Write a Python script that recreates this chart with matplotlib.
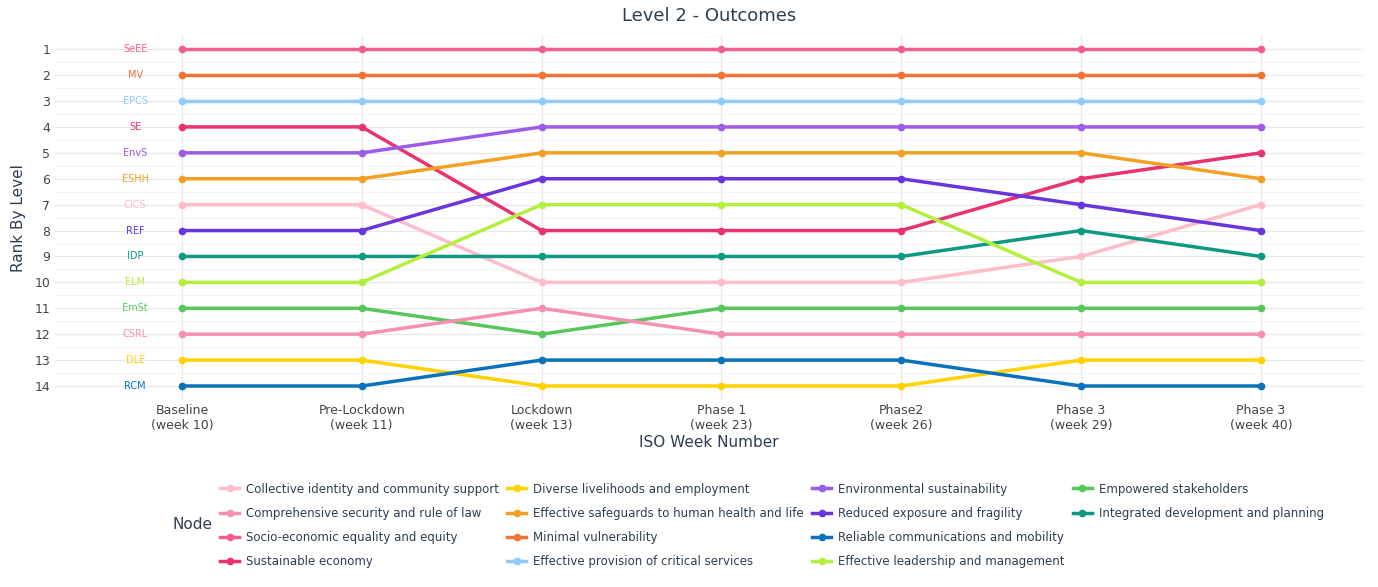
import matplotlib
matplotlib.use("Agg")
import matplotlib.pyplot as plt
from matplotlib.lines import Line2D

weeks = ["Baseline\n(week 10)", "Pre-Lockdown\n(week 11)", "Lockdown\n(week 13)", "Phase 1\n(week 23)",
         "Phase2\n(week 26)", "Phase 3\n(week 29)", "Phase 3\n(week 40)"]
codes = ["SeEE", "MV", "EPCS", "SE", "EnvS", "ESHH", "CICS", "REF", "IDP", "ELM", "EmSt", "CSRL", "DLE", "RCM"]
names = {
    "SeEE": "Socio-economic equality and equity", "MV": "Minimal vulnerability",
    "EPCS": "Effective provision of critical services", "SE": "Sustainable economy",
    "EnvS": "Environmental sustainability", "ESHH": "Effective safeguards to human health and life",
    "CICS": "Collective identity and community support", "REF": "Reduced exposure and fragility",
    "IDP": "Integrated development and planning", "ELM": "Effective leadership and management",
    "EmSt": "Empowered stakeholders", "CSRL": "Comprehensive security and rule of law",
    "DLE": "Diverse livelihoods and employment", "RCM": "Reliable communications and mobility"}
ranks = {
    "SeEE": [1, 1, 1, 1, 1, 1, 1], "MV": [2, 2, 2, 2, 2, 2, 2], "EPCS": [3, 3, 3, 3, 3, 3, 3],
    "SE": [4, 4, 8, 8, 8, 6, 5], "EnvS": [5, 5, 4, 4, 4, 4, 4], "ESHH": [6, 6, 5, 5, 5, 5, 6],
    "CICS": [7, 7, 10, 10, 10, 9, 7], "REF": [8, 8, 6, 6, 6, 7, 8], "IDP": [9, 9, 9, 9, 9, 8, 9],
    "ELM": [10, 10, 7, 7, 7, 10, 10], "EmSt": [11, 11, 12, 11, 11, 11, 11],
    "CSRL": [12, 12, 11, 12, 12, 12, 12], "DLE": [13, 13, 14, 14, 14, 13, 13],
    "RCM": [14, 14, 13, 13, 13, 14, 14]}
colors = {
    "SeEE": "#EF5F91", "MV": "#F07434", "EPCS": "#90CBF9", "SE": "#E8336E", "EnvS": "#9C5BE8",
    "ESHH": "#F2A125", "CICS": "#FFBCCB", "REF": "#6A35DC", "IDP": "#0E9982", "ELM": "#B3F03D",
    "EmSt": "#57C75B", "CSRL": "#F590B3", "DLE": "#FFD200", "RCM": "#0A72BA"}
legend_order = ["CICS", "CSRL", "SeEE", "SE", "DLE", "ESHH", "MV", "EPCS",
                "EnvS", "REF", "RCM", "ELM", "EmSt", "IDP"]

fig = plt.figure(figsize=(13.78, 5.87), dpi=100)
ax = fig.add_axes([0.04, 0.3186, 0.949, 0.6214])
x = list(range(len(weeks)))
for c in codes:
    ax.plot(x, ranks[c], color=colors[c], lw=2.5, marker="o", ms=4.5, zorder=3)
    ax.text(-0.26, ranks[c][0], c, color=colors[c], fontsize=7, ha="center", va="center")

ax.set_xlim(-0.705, 6.567)
ax.set_ylim(14.54, 0.46)
ax.set_yticks(range(1, 15))
ax.set_yticks([i + 0.5 for i in range(1, 14)], minor=True)
ax.set_xticks(x)
ax.set_xticklabels(weeks)
ax.tick_params(axis="both", which="both", length=0, labelsize=9, colors="#444444")
ax.tick_params(axis="x", pad=3)
ax.grid(True, which="major", color="#E8E8E8", lw=0.9)
ax.grid(True, which="minor", axis="y", color="#F2F2F2", lw=0.6)
for s in ax.spines.values():
    s.set_visible(False)
ax.set_xlabel("ISO Week Number", fontsize=11, color="#2F3E4F", labelpad=2)
ax.set_ylabel("Rank By Level", fontsize=11, color="#2F3E4F", labelpad=6)
ax.set_title("Level 2 - Outcomes", fontsize=13, color="#2F3E4F", pad=10)

handles = [Line2D([], [], color=colors[c], lw=2.5, marker="o", ms=4.5) for c in legend_order]
labels = [names[c] for c in legend_order]
handles += [Line2D([], [], alpha=0), Line2D([], [], alpha=0)]
labels += ["", ""]
fig.legend(handles, labels, ncol=4, loc="center left", bbox_to_anchor=(0.152, 0.105),
           frameon=False, fontsize=8.5, labelcolor="#2F3E4F", handlelength=1.6,
           handletextpad=0.6, columnspacing=0.7, labelspacing=0.95)
fig.text(0.125, 0.107, "Node", fontsize=11, color="#2F3E4F", va="center")
fig.savefig("out.png", dpi=100)
